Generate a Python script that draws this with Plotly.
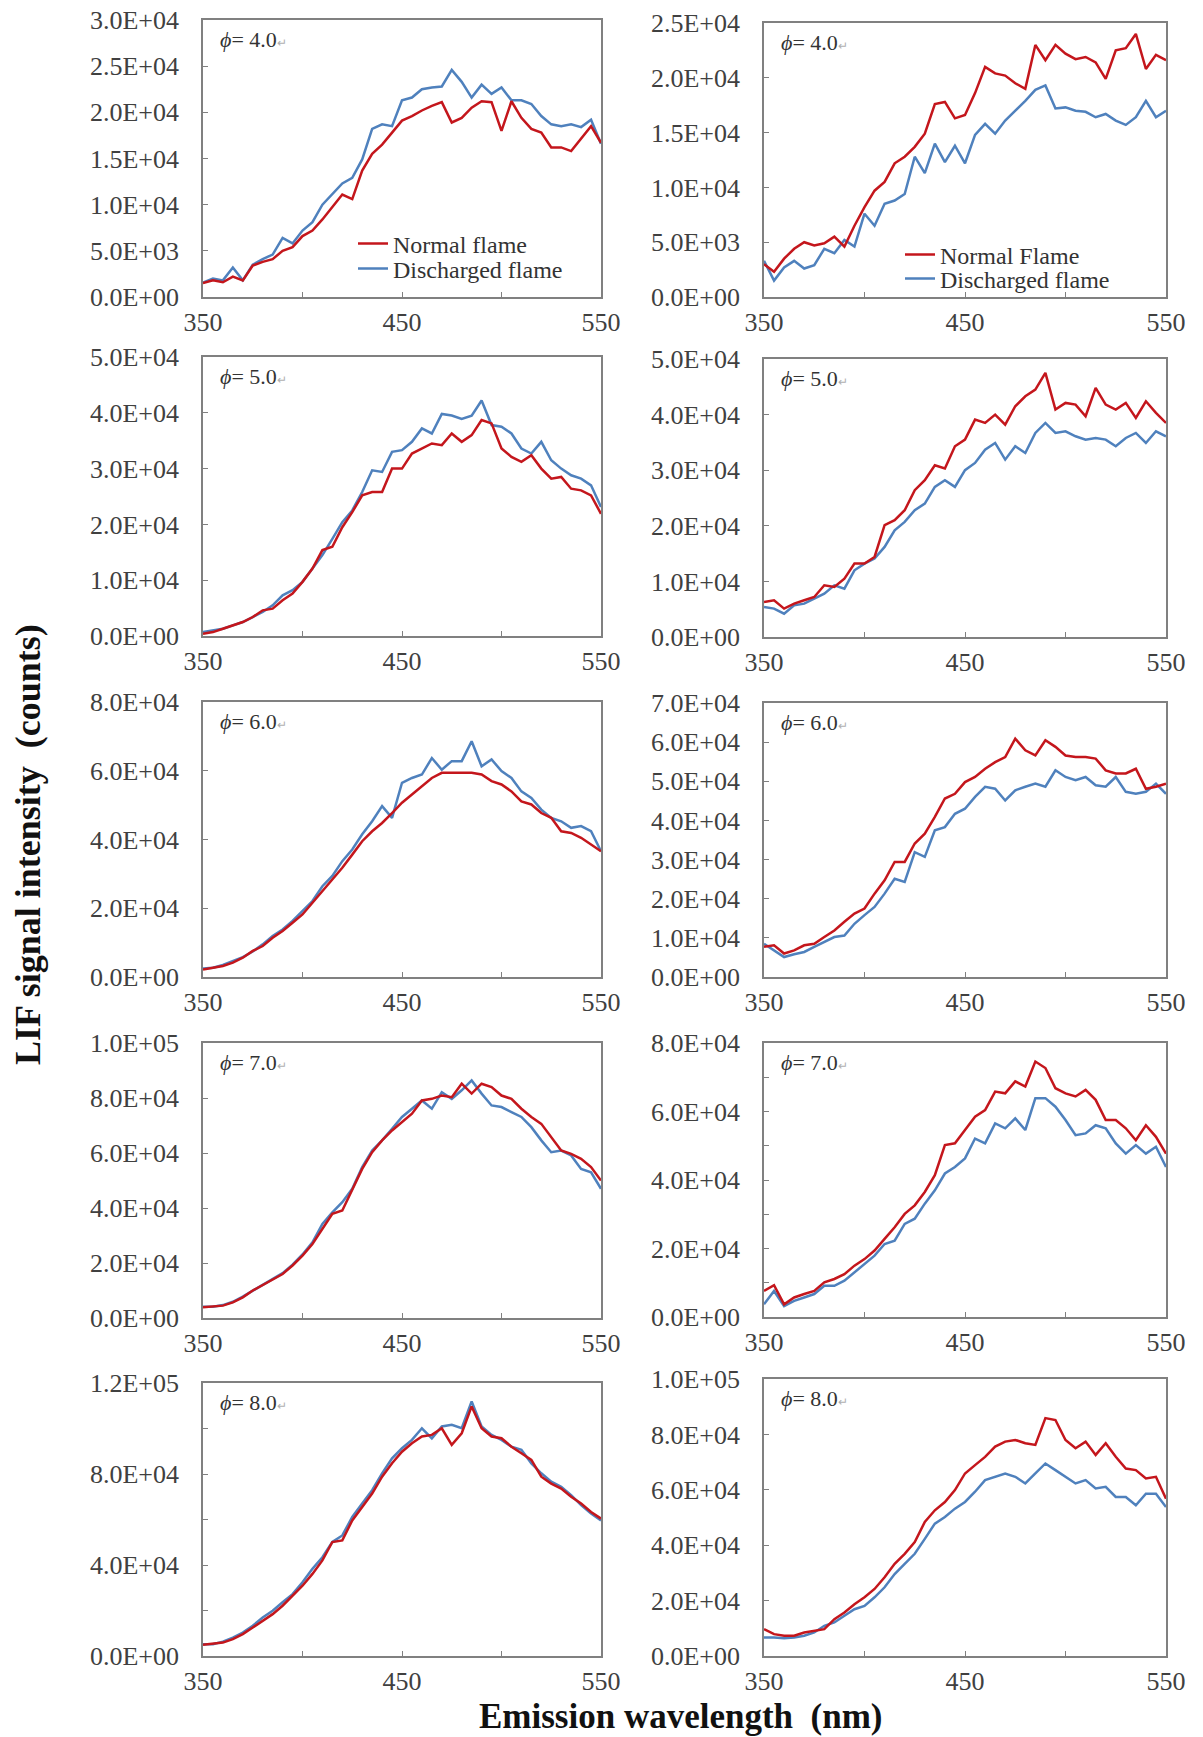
import plotly.graph_objects as go

# ---------------- data (LIF signal, in thousands of counts) ----------------
wavelength = list(range(350, 551, 5))  # nm

phi4_left_normal = [1.5, 1.8, 1.6, 2.2, 1.8, 3.4, 3.8, 4.1, 5.0, 5.4, 6.6, 7.2, 8.4, 9.7, 11.1, 10.6,
                    13.7, 15.5, 16.5, 17.8, 19.1, 19.6, 20.2, 20.7, 21.1, 18.9, 19.4, 20.5, 21.2, 21.1,
                    18.0, 21.2, 19.4, 18.2, 17.8, 16.2, 16.2, 15.8, 17.1, 18.5, 16.7]
phi4_left_discharged = [1.55, 2.0, 1.8, 3.2, 1.8, 3.5, 4.1, 4.6, 6.4, 5.8, 7.2, 8.1, 10.0, 11.1, 12.3, 12.9,
                        14.9, 18.2, 18.7, 18.5, 21.3, 21.6, 22.5, 22.7, 22.8, 24.6, 23.3, 21.6, 23.0, 22.0,
                        22.7, 21.3, 21.3, 20.9, 19.6, 18.7, 18.5, 18.7, 18.4, 19.2, 16.6]

phi4_right_normal = [3.0, 2.3, 3.5, 4.4, 5.0, 4.7, 4.9, 5.5, 4.6, 6.5, 8.2, 9.7, 10.5, 12.2, 12.8, 13.7,
                     14.9, 17.6, 17.8, 16.3, 16.6, 18.6, 21.0, 20.4, 20.2, 19.5, 19.0, 23.0, 21.6, 23.0,
                     22.2, 21.7, 21.9, 21.4, 19.9, 22.5, 22.7, 24.0, 20.8, 22.1, 21.6]
phi4_right_discharged = [3.3, 1.5, 2.7, 3.3, 2.6, 2.9, 4.4, 4.0, 5.2, 4.6, 7.6, 6.5, 8.5, 8.8, 9.4, 12.8,
                         11.3, 14.0, 12.3, 13.8, 12.2, 14.8, 15.8, 14.9, 16.1, 17.0, 17.9, 18.9, 19.3, 17.2,
                         17.3, 17.0, 16.9, 16.4, 16.7, 16.1, 15.7, 16.4, 17.9, 16.4, 17.0]

phi5_left_normal = [0.4, 0.7, 1.3, 1.9, 2.5, 3.4, 4.6, 4.9, 6.4, 7.6, 9.7, 12.1, 15.4, 16.0, 19.5, 22.2,
                    25.2, 25.8, 25.8, 30.0, 30.0, 32.7, 33.6, 34.5, 34.2, 36.3, 34.8, 36.0, 38.7, 38.1,
                    33.6, 32.1, 31.2, 32.4, 30.0, 28.2, 28.5, 26.4, 26.1, 25.2, 21.9]
phi5_left_discharged = [0.7, 1.0, 1.3, 1.9, 2.5, 3.4, 4.3, 5.5, 7.3, 8.2, 9.7, 12.1, 14.5, 17.4, 20.4, 22.5,
                        25.8, 29.7, 29.4, 33.0, 33.3, 34.8, 37.2, 36.3, 39.8, 39.5, 38.9, 39.5, 42.2, 37.8,
                        37.5, 36.3, 33.6, 32.7, 34.8, 31.5, 30.0, 28.8, 28.2, 27.0, 23.1]

phi5_right_normal = [6.3, 6.6, 5.1, 6.0, 6.6, 7.2, 9.3, 9.0, 10.5, 13.2, 13.2, 14.4, 20.1, 21.0, 22.8, 26.4,
                     28.2, 30.9, 30.3, 34.3, 35.5, 39.1, 38.5, 40.0, 38.2, 41.5, 43.3, 44.5, 47.5, 40.9,
                     42.1, 41.8, 39.7, 44.8, 41.8, 40.9, 42.1, 39.4, 42.4, 40.3, 38.5]
phi5_right_discharged = [5.4, 5.1, 4.2, 5.7, 6.0, 6.9, 7.8, 9.3, 8.7, 12.0, 13.2, 14.1, 16.2, 19.2, 20.7, 22.8,
                         24.0, 27.0, 28.2, 27.0, 30.0, 31.3, 33.7, 34.9, 31.9, 34.3, 33.1, 36.7, 38.5, 36.7,
                         37.0, 36.1, 35.5, 35.8, 35.5, 34.3, 35.8, 36.7, 34.9, 37.0, 36.1]

phi6_left_normal = [2.2, 2.7, 3.2, 4.2, 5.6, 7.6, 9.0, 11.4, 13.4, 15.8, 18.2, 21.6, 25.0, 28.4, 31.8, 35.6,
                    39.5, 42.4, 44.8, 47.7, 50.7, 53.1, 55.5, 57.9, 59.4, 59.4, 59.4, 59.4, 58.9, 57.0,
                    56.0, 54.0, 51.1, 50.2, 47.7, 46.3, 42.4, 41.9, 40.5, 38.5, 36.6]
phi6_left_discharged = [2.5, 2.7, 3.5, 4.6, 5.8, 7.4, 9.5, 11.9, 13.8, 16.3, 19.2, 22.1, 26.4, 29.4, 33.7, 37.1,
                        41.5, 45.3, 49.7, 46.3, 56.5, 57.9, 58.9, 63.7, 60.3, 62.8, 62.8, 68.6, 61.3, 63.3,
                        59.9, 57.9, 54.0, 52.1, 48.7, 46.3, 45.3, 43.4, 43.9, 42.4, 36.6]

phi6_right_normal = [7.7, 8.1, 6.0, 6.8, 8.1, 8.5, 10.2, 11.9, 14.1, 16.2, 17.5, 21.3, 24.7, 29.4, 29.4, 34.1,
                     36.6, 40.9, 45.6, 46.8, 49.8, 51.1, 53.2, 54.9, 56.2, 60.9, 57.9, 56.6, 60.5, 58.8,
                     56.6, 56.2, 56.2, 55.8, 52.8, 52.0, 52.0, 53.2, 48.1, 48.6, 49.4]
phi6_right_discharged = [8.5, 6.8, 5.1, 5.8, 6.4, 7.7, 8.9, 10.2, 10.6, 13.6, 15.8, 17.9, 21.3, 25.1, 24.3, 31.9,
                         30.7, 37.5, 38.3, 41.7, 43.0, 46.0, 48.6, 48.1, 45.1, 47.7, 48.6, 49.4, 48.6, 52.8,
                         51.1, 50.3, 51.1, 49.0, 48.6, 51.1, 47.3, 46.8, 47.3, 49.4, 46.8]

phi7_left_normal = [3.9, 4.1, 4.5, 5.7, 7.5, 10.0, 12.1, 14.2, 16.0, 19.1, 22.7, 26.9, 32.4, 37.9, 39.1, 46.4,
                    54.2, 60.3, 64.6, 68.2, 71.2, 74.3, 79.1, 79.7, 80.9, 80.3, 85.2, 81.6, 85.2, 84.0,
                    80.9, 79.7, 76.1, 73.1, 70.6, 65.8, 60.9, 59.7, 57.9, 54.9, 50.0]
phi7_left_discharged = [4.1, 4.1, 4.7, 5.9, 7.8, 10.0, 12.1, 14.2, 16.3, 19.4, 23.1, 27.5, 34.2, 38.4, 42.1, 47.0,
                        54.9, 60.9, 64.6, 68.8, 73.1, 76.1, 79.1, 76.1, 82.1, 79.7, 82.8, 86.4, 81.6, 77.3,
                        76.7, 74.9, 73.1, 69.4, 64.6, 60.3, 60.9, 59.1, 54.2, 53.0, 47.0]

phi7_right_normal = [7.6, 9.3, 3.7, 5.7, 6.7, 7.6, 10.1, 11.1, 12.5, 15.0, 16.9, 19.4, 22.8, 26.2, 30.1, 32.6,
                     36.5, 41.4, 50.2, 50.7, 54.6, 58.5, 60.4, 65.8, 65.3, 68.8, 67.3, 74.6, 72.7, 66.8,
                     65.3, 64.4, 66.3, 63.4, 57.5, 57.5, 55.1, 51.6, 56.0, 52.6, 47.7]
phi7_right_discharged = [3.7, 7.6, 3.2, 4.7, 5.7, 6.7, 9.1, 9.1, 10.6, 13.0, 15.5, 17.9, 21.3, 22.3, 27.2, 28.7,
                         33.1, 37.0, 41.9, 43.8, 46.3, 52.1, 50.7, 56.5, 55.1, 58.0, 54.6, 63.9, 63.9, 61.4,
                         57.5, 53.1, 53.6, 56.0, 55.1, 50.7, 47.7, 50.2, 47.7, 49.7, 43.8]

phi8_left_normal = [4.9, 5.4, 5.9, 7.4, 9.6, 12.5, 15.5, 18.4, 22.1, 26.5, 30.9, 36.1, 42.0, 50.1, 50.8, 59.6,
                    65.5, 71.4, 78.8, 84.7, 89.8, 93.5, 96.5, 97.2, 100.1, 92.8, 97.9, 109.7, 100.1, 96.5,
                    95.7, 92.0, 89.1, 86.2, 78.8, 75.8, 73.6, 70.0, 67.0, 63.3, 60.4]
phi8_left_discharged = [5.2, 5.2, 6.3, 8.1, 10.3, 13.3, 16.9, 19.9, 23.6, 27.2, 32.4, 38.3, 43.4, 50.1, 53.0, 61.1,
                        67.0, 72.9, 80.3, 86.9, 91.3, 95.0, 100.1, 95.7, 100.9, 101.6, 100.1, 111.9, 100.9, 97.2,
                        95.0, 92.0, 90.6, 84.7, 80.3, 76.6, 74.4, 70.7, 66.3, 62.6, 59.6]

phi8_right_normal = [9.7, 7.9, 7.3, 7.3, 8.5, 9.1, 9.7, 13.3, 15.7, 18.7, 21.2, 24.2, 28.4, 33.3, 36.9, 41.1,
                     48.4, 52.6, 55.6, 59.9, 65.9, 68.9, 71.9, 75.6, 77.4, 78.0, 76.8, 76.2, 85.9, 85.2,
                     78.0, 75.0, 77.4, 72.6, 76.8, 71.9, 67.7, 67.1, 64.1, 64.7, 56.8]
phi8_right_discharged = [6.7, 6.7, 6.4, 6.7, 7.3, 8.5, 10.9, 12.1, 14.5, 16.9, 18.1, 21.2, 24.8, 29.6, 33.3, 36.9,
                         42.3, 47.8, 50.2, 53.2, 55.6, 59.3, 63.5, 64.7, 65.9, 64.7, 62.3, 65.9, 69.5, 67.1,
                         64.7, 62.3, 63.5, 60.5, 61.1, 57.4, 57.4, 54.4, 58.6, 58.6, 53.8]

phi_labels = ["4.0", "4.0", "5.0", "5.0", "6.0", "6.0", "7.0", "7.0", "8.0", "8.0"]
normal_series = [phi4_left_normal, phi4_right_normal, phi5_left_normal, phi5_right_normal,
                 phi6_left_normal, phi6_right_normal, phi7_left_normal, phi7_right_normal,
                 phi8_left_normal, phi8_right_normal]
discharged_series = [phi4_left_discharged, phi4_right_discharged, phi5_left_discharged, phi5_right_discharged,
                     phi6_left_discharged, phi6_right_discharged, phi7_left_discharged, phi7_right_discharged,
                     phi8_left_discharged, phi8_right_discharged]
# y-axis: (max, tick step, label step) in counts
y_axes = [(30000, 5000, 5000), (25000, 5000, 5000),
          (50000, 10000, 10000), (50000, 10000, 10000),
          (80000, 20000, 20000), (70000, 10000, 10000),
          (100000, 20000, 20000), (80000, 10000, 20000),
          (120000, 20000, 40000), (100000, 20000, 20000)]
legend_names = {0: ("Normal flame", "Discharged flame"), 1: ("Normal Flame", "Discharged flame")}
x_ticks = [350, 400, 450, 500, 550]
x_ticktext = ["350", "", "450", "", "550"]

# ---------------- layout geometry (pixels) ----------------
W, H = 1203, 1737
col_px = [(203, 601), (764, 1166)]
row_px = [[(20, 297), (23, 297)], [(357, 636), (359, 637)], [(702, 977), (703, 977)],
          [(1043, 1318), (1043, 1317)], [(1383, 1656), (1379, 1656)]]

RED = "#C4161C"
BLUE = "#4F81BD"
SERIF = "Liberation Serif"
AXIS_COL = "#808080"
TICK_FONT = dict(family=SERIF, size=26, color="#404040")
LEG_FONT = dict(family=SERIF, size=24, color="#333333")

fig = go.Figure()
layout = dict(width=W, height=H, margin=dict(l=0, r=0, t=0, b=0, autoexpand=False),
              paper_bgcolor="white", plot_bgcolor="white", annotations=[])

# legend ids per panel: (normal, discharged)
legend_ids = {0: ("legend", "legend3"), 1: ("legend2", "legend4")}

for i in range(10):
    n = i + 1
    xn = "x" if n == 1 else f"x{n}"
    yn = "y" if n == 1 else f"y{n}"
    row, col = divmod(i, 2)
    leg = legend_ids.get(i)
    names = legend_names.get(i, ("Normal flame", "Discharged flame"))
    disc = [v * 1000 for v in discharged_series[i]]
    norm = [v * 1000 for v in normal_series[i]]
    fig.add_trace(go.Scatter(x=wavelength, y=disc, mode="lines", name=names[1],
                             line=dict(color=BLUE, width=2.5), xaxis=xn, yaxis=yn,
                             showlegend=leg is not None, legend=leg[1] if leg else "legend"))
    fig.add_trace(go.Scatter(x=wavelength, y=norm, mode="lines", name=names[0],
                             line=dict(color=RED, width=2.5), xaxis=xn, yaxis=yn,
                             showlegend=leg is not None, legend=leg[0] if leg else "legend"))
    x0, x1 = col_px[col]
    t, b = row_px[row][col]
    ymax, tstep, lstep = y_axes[i]
    yvals = list(range(0, ymax + 1, tstep))
    ytext = [f"{v:.1E}" if v % lstep == 0 else "" for v in yvals]
    layout["xaxis" if n == 1 else f"xaxis{n}"] = dict(
        domain=[x0 / W, x1 / W], anchor=yn, range=[350, 550],
        tickvals=x_ticks, ticktext=x_ticktext, ticks="inside", ticklen=5, tickwidth=1.2,
        tickcolor=AXIS_COL, showline=True, linecolor=AXIS_COL, linewidth=1.6, mirror=True,
        showgrid=False, zeroline=False, tickfont=TICK_FONT, ticklabelstandoff=1, fixedrange=True)
    layout["yaxis" if n == 1 else f"yaxis{n}"] = dict(
        domain=[1 - b / H, 1 - t / H], anchor=xn, range=[0, ymax],
        tickvals=yvals, ticktext=ytext, ticks="inside", ticklen=5, tickwidth=1.2,
        tickcolor=AXIS_COL, showline=True, linecolor=AXIS_COL, linewidth=1.6, mirror=True,
        showgrid=False, zeroline=False, tickfont=TICK_FONT, ticklabelstandoff=17, fixedrange=True)
    layout["annotations"].append(dict(
        xref=f"{xn} domain", yref=f"{yn} domain", x=0.037, y=0.93, xanchor="left", yanchor="middle",
        text=f"<i>ϕ</i>= {phi_labels[i]}<span style='font-size:12px;color:#b0b0b0'>↵</span>",
        showarrow=False, font=dict(family=SERIF, size=22, color="#333333")))

def leg_box(xpx, ypx):
    return dict(x=xpx / W, y=1 - ypx / H, xanchor="left", yanchor="middle",
                bgcolor="rgba(0,0,0,0)", font=LEG_FONT, itemwidth=30,
                borderwidth=0)

layout["legend"] = leg_box(353, 244)
layout["legend3"] = leg_box(353, 269)
layout["legend2"] = leg_box(900, 255)
layout["legend4"] = leg_box(900, 279)

layout["annotations"].append(dict(
    xref="paper", yref="paper", x=28 / W, y=1 - 845 / H, xanchor="center", yanchor="middle",
    text="<b>LIF signal intensity  (counts)</b>", textangle=-90, showarrow=False,
    font=dict(family=SERIF, size=36, color="#111111")))
layout["annotations"].append(dict(
    xref="paper", yref="paper", x=681 / W, y=1 - 1716 / H, xanchor="center", yanchor="middle",
    text="<b>Emission wavelength  (nm)</b>", showarrow=False,
    font=dict(family=SERIF, size=35, color="#111111")))

fig.update_layout(**layout)
fig.write_html("out.html", post_script="document.body.style.margin='0px';")
